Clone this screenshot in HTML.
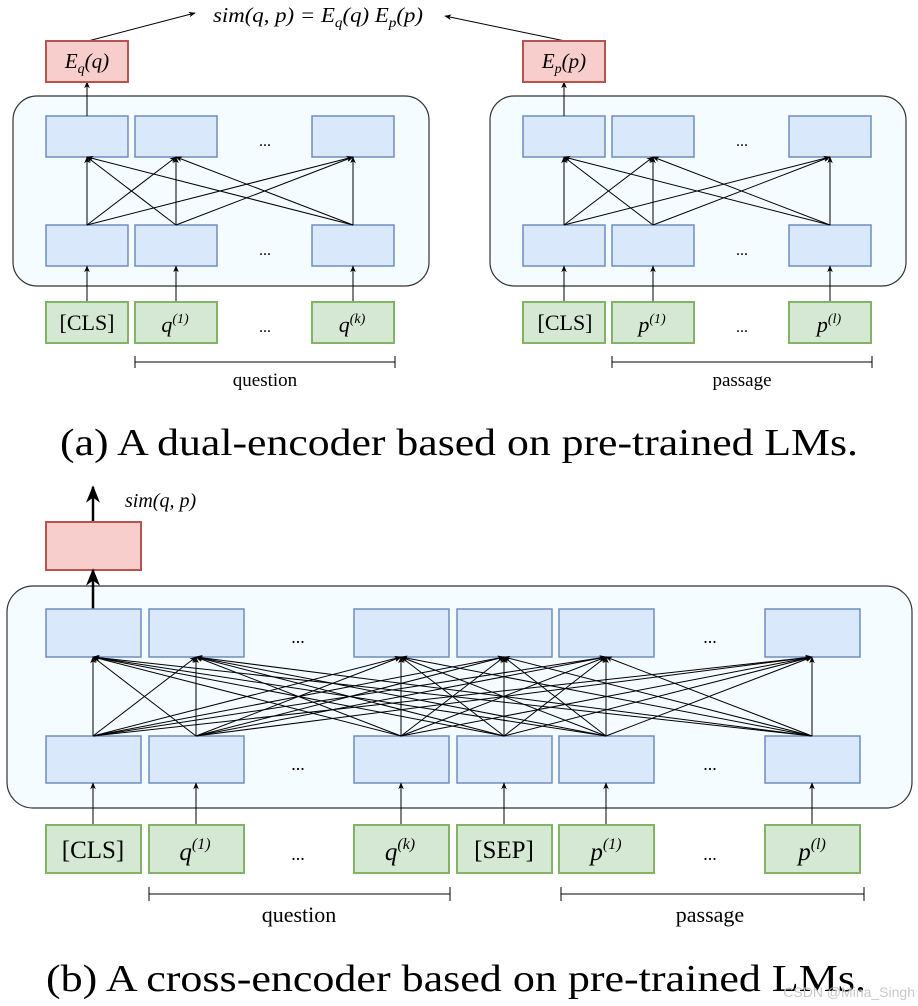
<!DOCTYPE html>
<html><head><meta charset="utf-8"><style>
html,body{margin:0;padding:0;background:#fff}
svg{display:block}
text{font-family:"Liberation Serif",serif;fill:#000}
.b{fill:#dae8fc;stroke:#6c8ebf;stroke-width:1.5}
.g{fill:#d5e8d4;stroke:#82b366;stroke-width:2}
.r{fill:#f8cecc;stroke:#b85450;stroke-width:2}
.l{stroke:#000;stroke-width:1;fill:none}
</style></head><body>
<svg width="918" height="1006" viewBox="0 0 918 1006" xmlns="http://www.w3.org/2000/svg">
<defs>
<marker id="a" viewBox="0 0 10 10" refX="9" refY="5" markerWidth="7" markerHeight="7" orient="auto-start-reverse"><path d="M0,1 L10,5 L0,9 L3,5z" fill="#000"/></marker>
</defs>
<!-- (a) -->
<text x="213" y="22" font-size="21" font-style="italic" textLength="210" lengthAdjust="spacingAndGlyphs">sim(q, p) = E<tspan font-size="14" dy="5">q</tspan><tspan dy="-5">(q) E</tspan><tspan font-size="14" dy="5">p</tspan><tspan dy="-5">(p)</tspan></text>
<line class="l" x1="88" y1="41" x2="195" y2="13" marker-end="url(#a)"/>
<line class="l" x1="565" y1="41" x2="445" y2="16" marker-end="url(#a)"/>
<g id="L">
<rect x="13" y="96" width="416" height="190" rx="24" fill="#f5fcff" stroke="#333" stroke-width="1.2"/>
<rect class="b" x="46" y="116" width="82" height="41"/>
<rect class="b" x="135" y="116" width="82" height="41"/>
<rect class="b" x="312" y="116" width="82" height="41"/>
<rect class="b" x="46" y="225" width="82" height="41"/>
<rect class="b" x="135" y="225" width="82" height="41"/>
<rect class="b" x="312" y="225" width="82" height="41"/>
<text x="265" y="146" font-size="16" text-anchor="middle">...</text>
<text x="265" y="255" font-size="16" text-anchor="middle">...</text>
<g class="l" marker-end="url(#a)">
<line x1="87" y1="225" x2="87" y2="157"/><line x1="87" y1="225" x2="176" y2="157"/><line x1="87" y1="225" x2="353" y2="157"/>
<line x1="176" y1="225" x2="87" y2="157"/><line x1="176" y1="225" x2="176" y2="157"/><line x1="176" y1="225" x2="353" y2="157"/>
<line x1="353" y1="225" x2="87" y2="157"/><line x1="353" y1="225" x2="176" y2="157"/><line x1="353" y1="225" x2="353" y2="157"/>
<line x1="87" y1="302" x2="87" y2="266"/><line x1="176" y1="302" x2="176" y2="266"/><line x1="353" y1="302" x2="353" y2="266"/>
<line x1="87" y1="116" x2="87" y2="82"/>
</g>
<rect class="g" x="46" y="302" width="82" height="41"/>
<rect class="g" x="135" y="302" width="82" height="41"/>
<rect class="g" x="312" y="302" width="82" height="41"/>
<text x="265" y="332" font-size="16" text-anchor="middle">...</text>
<path class="l" d="M135,356 V368 M135,362 H395 M395,356 V368"/>
</g>
<text x="87" y="330" font-size="22" text-anchor="middle">[CLS]</text>
<text x="175" y="332" font-size="22" font-style="italic" text-anchor="middle">q<tspan font-size="14" dy="-9">(1)</tspan></text>
<text x="352" y="332" font-size="22" font-style="italic" text-anchor="middle">q<tspan font-size="14" dy="-9">(k)</tspan></text>
<text x="265" y="386" font-size="19" text-anchor="middle">question</text>
<rect class="r" x="46" y="41" width="82" height="41"/>
<text x="87" y="68" font-size="21" font-style="italic" text-anchor="middle">E<tspan font-size="14" dy="5">q</tspan><tspan dy="-5">(q)</tspan></text>
<use href="#L" transform="translate(477,0)"/>
<text x="565" y="330" font-size="22" text-anchor="middle">[CLS]</text>
<text x="652" y="332" font-size="22" font-style="italic" text-anchor="middle">p<tspan font-size="14" dy="-9">(1)</tspan></text>
<text x="829" y="332" font-size="22" font-style="italic" text-anchor="middle">p<tspan font-size="14" dy="-9">(l)</tspan></text>
<text x="742" y="386" font-size="19" text-anchor="middle">passage</text>
<rect class="r" x="523" y="41" width="82" height="41"/>
<text x="564" y="68" font-size="21" font-style="italic" text-anchor="middle">E<tspan font-size="14" dy="5">p</tspan><tspan dy="-5">(p)</tspan></text>
<text x="60" y="455" font-size="38" textLength="798" lengthAdjust="spacingAndGlyphs">(a) A dual-encoder based on pre-trained LMs.</text>

<!-- (b) -->
<line x1="93" y1="522" x2="93" y2="487" stroke="#000" stroke-width="2.5" marker-end="url(#a)"/>
<text x="125" y="507" font-size="20" font-style="italic">sim(q, p)</text>
<rect class="r" x="46" y="522" width="95" height="48"/>
<rect x="7" y="586" width="905" height="222" rx="26" fill="#f5fcff" stroke="#333" stroke-width="1.2"/>
<line x1="93" y1="609" x2="93" y2="570" stroke="#000" stroke-width="2.5" marker-end="url(#a)"/>
<g>
<rect class="b" x="46" y="609" width="95" height="48"/><rect class="b" x="149" y="609" width="95" height="48"/>
<rect class="b" x="354" y="609" width="95" height="48"/><rect class="b" x="457" y="609" width="95" height="48"/>
<rect class="b" x="559" y="609" width="95" height="48"/><rect class="b" x="765" y="609" width="95" height="48"/>
<rect class="b" x="46" y="736" width="95" height="47"/><rect class="b" x="149" y="736" width="95" height="47"/>
<rect class="b" x="354" y="736" width="95" height="47"/><rect class="b" x="457" y="736" width="95" height="47"/>
<rect class="b" x="559" y="736" width="95" height="47"/><rect class="b" x="765" y="736" width="95" height="47"/>
</g>
<text x="298" y="643" font-size="18" text-anchor="middle">...</text>
<text x="710" y="643" font-size="18" text-anchor="middle">...</text>
<text x="298" y="770" font-size="18" text-anchor="middle">...</text>
<text x="710" y="770" font-size="18" text-anchor="middle">...</text>
<g class="l" marker-end="url(#a)">
<line x1="93" y1="736" x2="93" y2="657"/><line x1="93" y1="736" x2="196" y2="657"/><line x1="93" y1="736" x2="401" y2="657"/><line x1="93" y1="736" x2="504" y2="657"/><line x1="93" y1="736" x2="606" y2="657"/><line x1="93" y1="736" x2="812" y2="657"/>
<line x1="196" y1="736" x2="93" y2="657"/><line x1="196" y1="736" x2="196" y2="657"/><line x1="196" y1="736" x2="401" y2="657"/><line x1="196" y1="736" x2="504" y2="657"/><line x1="196" y1="736" x2="606" y2="657"/><line x1="196" y1="736" x2="812" y2="657"/>
<line x1="401" y1="736" x2="93" y2="657"/><line x1="401" y1="736" x2="196" y2="657"/><line x1="401" y1="736" x2="401" y2="657"/><line x1="401" y1="736" x2="504" y2="657"/><line x1="401" y1="736" x2="606" y2="657"/><line x1="401" y1="736" x2="812" y2="657"/>
<line x1="504" y1="736" x2="93" y2="657"/><line x1="504" y1="736" x2="196" y2="657"/><line x1="504" y1="736" x2="401" y2="657"/><line x1="504" y1="736" x2="504" y2="657"/><line x1="504" y1="736" x2="606" y2="657"/><line x1="504" y1="736" x2="812" y2="657"/>
<line x1="606" y1="736" x2="93" y2="657"/><line x1="606" y1="736" x2="196" y2="657"/><line x1="606" y1="736" x2="401" y2="657"/><line x1="606" y1="736" x2="504" y2="657"/><line x1="606" y1="736" x2="606" y2="657"/><line x1="606" y1="736" x2="812" y2="657"/>
<line x1="812" y1="736" x2="93" y2="657"/><line x1="812" y1="736" x2="196" y2="657"/><line x1="812" y1="736" x2="401" y2="657"/><line x1="812" y1="736" x2="504" y2="657"/><line x1="812" y1="736" x2="606" y2="657"/><line x1="812" y1="736" x2="812" y2="657"/>
<line x1="93" y1="825" x2="93" y2="783"/><line x1="196" y1="825" x2="196" y2="783"/><line x1="401" y1="825" x2="401" y2="783"/><line x1="504" y1="825" x2="504" y2="783"/><line x1="606" y1="825" x2="606" y2="783"/><line x1="812" y1="825" x2="812" y2="783"/>
</g>
<rect class="g" x="46" y="825" width="95" height="48"/><rect class="g" x="149" y="825" width="95" height="48"/>
<rect class="g" x="354" y="825" width="95" height="48"/><rect class="g" x="457" y="825" width="95" height="48"/>
<rect class="g" x="559" y="825" width="95" height="48"/><rect class="g" x="765" y="825" width="95" height="48"/>
<text x="93" y="858" font-size="25" text-anchor="middle">[CLS]</text>
<text x="195" y="860" font-size="25" font-style="italic" text-anchor="middle">q<tspan font-size="16" dy="-11">(1)</tspan></text>
<text x="298" y="860" font-size="18" text-anchor="middle">...</text>
<text x="400" y="860" font-size="25" font-style="italic" text-anchor="middle">q<tspan font-size="16" dy="-11">(k)</tspan></text>
<text x="504" y="858" font-size="25" text-anchor="middle">[SEP]</text>
<text x="606" y="860" font-size="25" font-style="italic" text-anchor="middle">p<tspan font-size="16" dy="-11">(1)</tspan></text>
<text x="710" y="860" font-size="18" text-anchor="middle">...</text>
<text x="812" y="860" font-size="25" font-style="italic" text-anchor="middle">p<tspan font-size="16" dy="-11">(l)</tspan></text>
<path class="l" d="M149,887 V901 M149,894 H450 M450,887 V901"/>
<path class="l" d="M561,887 V901 M561,894 H864 M864,887 V901"/>
<text x="299" y="922" font-size="22" text-anchor="middle">question</text>
<text x="710" y="922" font-size="22" text-anchor="middle">passage</text>
<text x="46" y="991" font-size="38" textLength="820" lengthAdjust="spacingAndGlyphs">(b) A cross-encoder based on pre-trained LMs.</text>
<text x="915" y="997" font-size="14" text-anchor="end" style="fill:#c8c8c8;font-family:'Liberation Sans',sans-serif">CSDN @Mina_Singh</text>
</svg>
</body></html>
